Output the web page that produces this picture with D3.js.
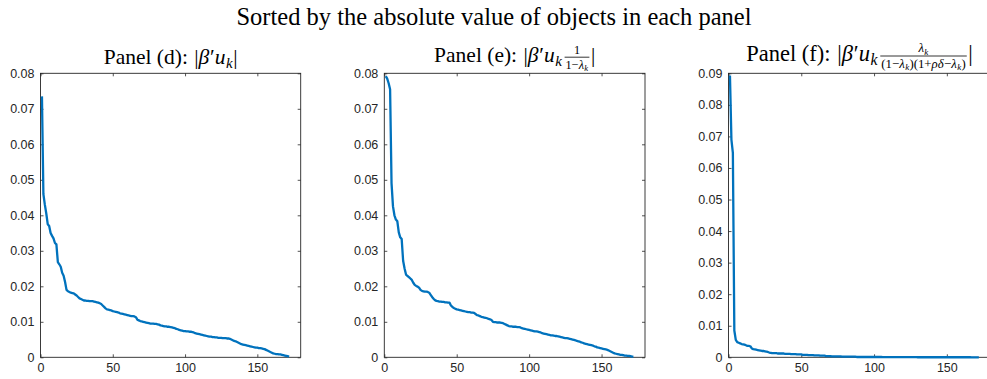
<!DOCTYPE html>
<html>
<head>
<meta charset="utf-8">
<script src="https://cdn.jsdelivr.net/npm/d3@7"></script>
<style>
  html, body { margin: 0; padding: 0; background: #fff; }
  svg { display: block; }
  .tick text { font-family: "Liberation Sans", Arial, sans-serif; font-size: 12.5px; fill: #262626; }
  .mt { font-family: "Liberation Serif", "Times New Roman", serif; fill: #000; white-space: pre; }
</style>
</head>
<body>
<svg id="chart" width="987" height="379"></svg>
<script>
// Sorted absolute values, one entry per object (rank 1 .. N)
const valuesD = [
  0.0735, 0.0460, 0.0430, 0.0405, 0.0375, 0.0370, 0.0350, 0.0342, 0.0335, 0.0322,
  0.0318, 0.0268, 0.0262, 0.0255, 0.0238, 0.0230, 0.0212, 0.0190, 0.0186, 0.0184,
  0.0182, 0.0181, 0.0180, 0.0177, 0.0174, 0.0170, 0.0166, 0.0164, 0.0162, 0.0160,
  0.0160, 0.0159, 0.0159, 0.0158, 0.0158, 0.0158, 0.0157, 0.0156, 0.0155, 0.0154,
  0.0152, 0.0150, 0.0146, 0.0142, 0.0138, 0.0135, 0.0134, 0.0133, 0.0132, 0.0130,
  0.0129, 0.0128, 0.0127, 0.0126, 0.0124, 0.0123, 0.0122, 0.0121, 0.0120, 0.0119,
  0.0118, 0.0117, 0.0116, 0.0116, 0.0115, 0.0113, 0.0106, 0.0104, 0.0102, 0.0101,
  0.0100, 0.0099, 0.0098, 0.0097, 0.0096, 0.0095, 0.0095, 0.0095, 0.0094, 0.0094,
  0.0093, 0.0092, 0.0090, 0.0089, 0.0088, 0.0087, 0.0087, 0.0086, 0.0086, 0.0085,
  0.0084, 0.0083, 0.0082, 0.0080, 0.0079, 0.0077, 0.0076, 0.0075, 0.0074, 0.0074,
  0.0073, 0.0073, 0.0072, 0.0072, 0.0071, 0.0070, 0.0068, 0.0067, 0.0066, 0.0065,
  0.0064, 0.0063, 0.0062, 0.0061, 0.0060, 0.0059, 0.0058, 0.0058, 0.0057, 0.0057,
  0.0056, 0.0056, 0.0055, 0.0055, 0.0055, 0.0054, 0.0054, 0.0054, 0.0053, 0.0053,
  0.0052, 0.0050, 0.0048, 0.0046, 0.0045, 0.0043, 0.0041, 0.0039, 0.0037, 0.0036,
  0.0035, 0.0034, 0.0033, 0.0032, 0.0031, 0.0030, 0.0029, 0.0028, 0.0027, 0.0027,
  0.0026, 0.0026, 0.0025, 0.0024, 0.0023, 0.0021, 0.0019, 0.0017, 0.0015, 0.0013,
  0.0011, 0.0010, 0.0009, 0.0009, 0.0008, 0.0008, 0.0007, 0.0006, 0.0005, 0.0004,
  0.0003, 0.0002
];

const valuesE = [
  0.0792, 0.0785, 0.0772, 0.0755, 0.0490, 0.0425, 0.0400, 0.0388, 0.0383, 0.0352,
  0.0338, 0.0333, 0.0272, 0.0250, 0.0233, 0.0229, 0.0226, 0.0222, 0.0218, 0.0210,
  0.0204, 0.0201, 0.0199, 0.0196, 0.0190, 0.0187, 0.0186, 0.0185, 0.0185, 0.0184,
  0.0182, 0.0176, 0.0170, 0.0165, 0.0161, 0.0159, 0.0158, 0.0157, 0.0157, 0.0156,
  0.0156, 0.0155, 0.0155, 0.0154, 0.0154, 0.0146, 0.0142, 0.0139, 0.0137, 0.0135,
  0.0134, 0.0133, 0.0132, 0.0131, 0.0130, 0.0129, 0.0128, 0.0127, 0.0127, 0.0126,
  0.0126, 0.0125, 0.0122, 0.0119, 0.0118, 0.0116, 0.0114, 0.0113, 0.0112, 0.0111,
  0.0110, 0.0108, 0.0107, 0.0105, 0.0100, 0.0099, 0.0099, 0.0098, 0.0098, 0.0098,
  0.0097, 0.0096, 0.0094, 0.0092, 0.0090, 0.0088, 0.0087, 0.0087, 0.0086, 0.0086,
  0.0086, 0.0085, 0.0085, 0.0084, 0.0082, 0.0081, 0.0080, 0.0079, 0.0078, 0.0077,
  0.0076, 0.0075, 0.0074, 0.0073, 0.0073, 0.0072, 0.0071, 0.0070, 0.0068, 0.0067,
  0.0066, 0.0065, 0.0064, 0.0063, 0.0062, 0.0062, 0.0061, 0.0060, 0.0060, 0.0059,
  0.0058, 0.0057, 0.0056, 0.0055, 0.0054, 0.0054, 0.0053, 0.0052, 0.0051, 0.0050,
  0.0049, 0.0048, 0.0046, 0.0045, 0.0044, 0.0042, 0.0041, 0.0039, 0.0038, 0.0037,
  0.0036, 0.0035, 0.0034, 0.0033, 0.0031, 0.0030, 0.0028, 0.0027, 0.0026, 0.0025,
  0.0024, 0.0023, 0.0022, 0.0021, 0.0019, 0.0017, 0.0015, 0.0013, 0.0011, 0.0010,
  0.0009, 0.0008, 0.0007, 0.0007, 0.0006, 0.0005, 0.0005, 0.0004, 0.0004, 0.0003,
  0.0002, 0.0002
];

const valuesF = [
  0.0893, 0.0690, 0.0648, 0.0085, 0.0055, 0.0048, 0.0046, 0.0044, 0.0042, 0.0041,
  0.0040, 0.0038, 0.0036, 0.0036, 0.0035, 0.0028, 0.0026, 0.0025, 0.0024, 0.0023,
  0.0022, 0.0021, 0.0020, 0.0020, 0.0019, 0.0018, 0.0017, 0.0015, 0.0014, 0.0013,
  0.0013, 0.0013, 0.0013, 0.0012, 0.0012, 0.0012, 0.0012, 0.0012, 0.0011, 0.0011,
  0.0011, 0.0011, 0.0010, 0.0010, 0.0010, 0.0010, 0.0009, 0.0009, 0.0009, 0.0009,
  0.0008, 0.0008, 0.0008, 0.0008, 0.0007, 0.0007, 0.0007, 0.0007, 0.0006, 0.0006,
  0.0006, 0.0006, 0.0005, 0.0005, 0.0005, 0.0005, 0.0004, 0.0004, 0.0004, 0.0004,
  0.0003, 0.0003, 0.0003, 0.0003, 0.0003, 0.0003, 0.0003, 0.0002, 0.0002, 0.0002,
  0.0002, 0.0002, 0.0002, 0.0002, 0.0002, 0.0002, 0.0002, 0.0001, 0.0001, 0.0001,
  0.0001, 0.0001, 0.0001, 0.0001, 0.0001, 0.0001, 0.0001, 0.0001, 0.0001, 0.0001,
  0.0001, 0.0001, 0.0001, 0.0001, 0.0001, 0.00008, 0.00008, 0.00008, 0.00007, 0.00007,
  0.00007, 0.00006, 0.00006, 0.00006, 0.00005, 0.00005, 0.00005, 0.00005, 0.00004, 0.00004,
  0.00004, 0.00004, 0.00004, 0.00003, 0.00003, 0.00003, 0.00003, 0.00003, 0.00003, 0.00002,
  0.00002, 0.00002, 0.00002, 0.00002, 0.00002, 0.00002, 0.00002, 0.00002, 0.00002, 0.00002,
  0.00002, 0.00002, 0.00002, 0.00001, 0.00001, 0.00001, 0.00001, 0.00001, 0.00001, 0.00001,
  0.00001, 0.00001, 0.00001, 0.00001, 0.00001, 0.00001, 0.00001, 0.00001, 0.00001, 0.00001,
  0.00001, 0.00001, 0.00001, 0.00001, 0.00001, 0.00001, 0.000005, 0.000005, 0.000005, 0.000005,
  0.000005, 0.000005
];

const xDomain = [0, 180];
const xTicks = [0, 50, 100, 150];
const yTicksDE = [0, 0.01, 0.02, 0.03, 0.04, 0.05, 0.06, 0.07, 0.08];
const yTicksF = [0, 0.01, 0.02, 0.03, 0.04, 0.05, 0.06, 0.07, 0.08, 0.09];

const mainTitle = "Sorted by the absolute value of objects in each panel";

// Title pieces: plain text, italic math symbols, subscripts, gaps and stacked fractions
const lead = (lbl) => [
  { t: "Panel (" + lbl + "):" }, { gap: 0.3 }, { t: "|" }, { t: "\u03B2", i: true }, { t: "\u2032" },
  { t: "u", i: true }, { t: "k", i: true, sub: true }
];
const lamK = [{ t: "\u03BB", i: true }, { t: "k", i: true, sub: true }];

const panels = [
  { values: valuesD, yMax: 0.08, yTicks: yTicksDE, left: 40.5, right: 300.7,
    title: [...lead("d"), { t: "|" }] },
  { values: valuesE, yMax: 0.08, yTicks: yTicksDE, left: 384.3, right: 645,
    title: [...lead("e"), { gap: 0.1 },
      { frac: [[{ t: "1" }], [{ t: "1\u2212" }, ...lamK]] },
      { t: "|" }] },
  { values: valuesF, yMax: 0.09, yTicks: yTicksF, left: 728.5, right: 990.5,
    title: [...lead("f"), { gap: 0.1 },
      { frac: [lamK, [{ t: "(1\u2212" }, ...lamK, { t: ")(1+" }, { t: "\u03C1\u03B4", i: true },
                      { t: "\u2212" }, ...lamK, { t: ")" }]] },
      { t: "|" }] }
];

const plotTop = 73.3, plotBottom = 357.3;
const lineColor = "#0072BD", axisColor = "#262626";
const serif = "'Liberation Serif', 'Times New Roman', serif";
const svg = d3.select("#chart");

// Lay out a sequence of pieces starting at x on the given baseline; returns end x
function layout(g, pieces, x, base, size) {
  for (const p of pieces) {
    if (p.gap) {
      x += p.gap * size;
    } else if (p.frac) {
      const fs = size * 0.57;
      const axisY = base - size * 0.2;
      const num = g.append("g"), den = g.append("g");
      const wn = layout(num, p.frac[0], 0, axisY - 3.6, fs);
      const wd = layout(den, p.frac[1], 0, axisY + 11.8, fs);
      const w = Math.max(wn, wd) + 2;
      num.attr("transform", `translate(${x + (w - wn) / 2},0)`);
      den.attr("transform", `translate(${x + (w - wd) / 2},0)`);
      g.append("line")
        .attr("x1", x).attr("x2", x + w)
        .attr("y1", axisY).attr("y2", axisY)
        .attr("stroke", "#000").attr("stroke-width", 0.8);
      x += w + 1.5;
    } else {
      const fs = p.sub ? size * 0.7 : size;
      const t = g.append("text").attr("class", "mt")
        .attr("font-family", serif)
        .attr("x", x).attr("y", base + (p.sub ? size * 0.2 : 0))
        .attr("font-size", fs)
        .attr("font-style", p.i ? "italic" : "normal")
        .text(p.t);
      x += t.node().getComputedTextLength() + (p.i ? fs * 0.03 : 0);
    }
  }
  return x;
}

// Overall title
svg.append("text").attr("class", "mt")
  .attr("font-family", serif)
  .attr("x", 494).attr("y", 25)
  .attr("text-anchor", "middle")
  .attr("font-size", 24.5)
  .text(mainTitle);

const titleBase = [63.5, 61.5, 60.5];
const titleSize = [21.5, 21.5, 22.5];

panels.forEach((p, idx) => {
  const x = d3.scaleLinear().domain(xDomain).range([p.left, p.right]);
  const y = d3.scaleLinear().domain([0, p.yMax]).range([plotBottom, plotTop]);
  const g = svg.append("g");

  // Box and inward ticks on all four sides
  const axB = d3.axisBottom(x).tickValues(xTicks).tickSizeInner(-3).tickSizeOuter(0).tickPadding(6)
    .tickFormat(d3.format("d"));
  const axT = d3.axisTop(x).tickValues(xTicks).tickSizeInner(-3).tickSizeOuter(0).tickFormat("");
  const fmt = d => d === 0 ? "0" : d3.format(".2f")(d);
  const axL = d3.axisLeft(y).tickValues(p.yTicks).tickSizeInner(-3).tickSizeOuter(0).tickPadding(6)
    .tickFormat(fmt);
  const axR = d3.axisRight(y).tickValues(p.yTicks).tickSizeInner(-3).tickSizeOuter(0).tickFormat("");

  g.append("g").attr("transform", `translate(0,${plotBottom})`).call(axB);
  g.append("g").attr("transform", `translate(0,${plotTop})`).call(axT);
  g.append("g").attr("transform", `translate(${p.left},0)`).call(axL);
  g.append("g").attr("transform", `translate(${p.right},0)`).call(axR);
  g.selectAll(".domain").remove();
  g.selectAll(".tick line").attr("stroke", axisColor).attr("stroke-width", 0.8);

  g.append("rect")
    .attr("x", p.left).attr("y", plotTop)
    .attr("width", p.right - p.left).attr("height", plotBottom - plotTop)
    .attr("fill", "none").attr("stroke", axisColor).attr("stroke-width", 0.9);

  const line = d3.line().x((d, i) => x(i + 1)).y(d => y(d));
  g.append("path").datum(p.values)
    .attr("d", line)
    .attr("fill", "none")
    .attr("stroke", lineColor)
    .attr("stroke-width", 2.3)
    .attr("stroke-linejoin", "round");

  // Panel title, centred over the plot
  const tg = svg.append("g");
  const w = layout(tg, p.title, 0, titleBase[idx], titleSize[idx]);
  tg.attr("transform", `translate(${(p.left + p.right) / 2 - w / 2},0)`);
});
</script>
</body>
</html>
